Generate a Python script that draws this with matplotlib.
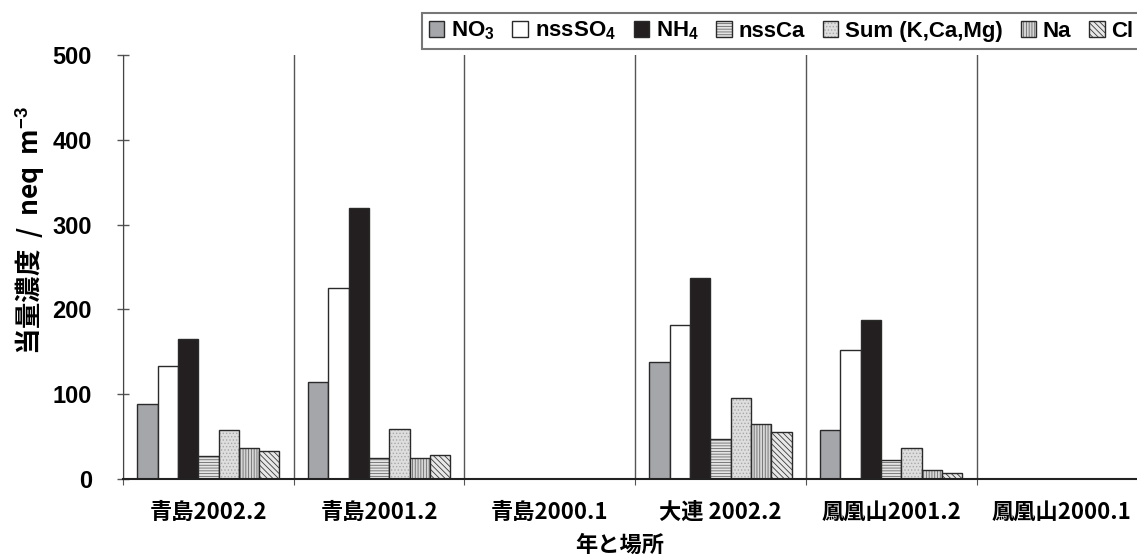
import numpy as np
import matplotlib
matplotlib.use("Agg")
import matplotlib.pyplot as plt

plt.rcParams['font.family'] = ['Liberation Sans', 'Noto Sans CJK JP', 'DejaVu Sans']
plt.rcParams['mathtext.fontset'] = 'custom'
plt.rcParams['mathtext.rm'] = 'Liberation Sans:bold'
plt.rcParams['mathtext.it'] = 'Liberation Sans:bold'
plt.rcParams['mathtext.bf'] = 'Liberation Sans:bold'
plt.rcParams['hatch.linewidth'] = 0.6

# data (neq m-3)
sites = ["青島2002.2", "青島2001.2", "青島2000.1", "大連 2002.2", "鳳凰山2001.2", "鳳凰山2000.1"]
species = ["NO$_3$", "nssSO$_4$", "NH$_4$", "nssCa", "Sum (K,Ca,Mg)", "Na", "Cl"]
no3 = [88, 114, 0, 138, 58, 0]
nsso4 = [133, 225, 0, 182, 152, 0]
nh4 = [165, 319, 0, 237, 188, 0]
nssca = [27, 25, 0, 47, 22, 0]
sum_kcamg = [58, 59, 0, 95, 36, 0]
na = [36, 25, 0, 65, 11, 0]
cl = [33, 28, 0, 55, 7, 0]

series = [no3, nsso4, nh4, nssca, sum_kcamg, na, cl]
faces = ["#a5a6aa", "white", "#231f20", "#e4e4e4", "#dedede", "#d6d6d6", "#e8e8e8"]
hatches = [None, None, None, "------", ".....", "||||||", "\\\\\\\\\\\\"]
hatch_cols = [None, None, None, "#6a6a6a", "#a8a8a8", "#6a6a6a", "#3a3a3a"]

fig = plt.figure(figsize=(11.37, 5.57), dpi=100)
ax = fig.add_axes([123/1137, 1 - 479/557, 1 - 123/1137, (479 - 55)/557])

x = np.arange(len(sites))
w = 0.119
for i, vals in enumerate(series):
    bars = ax.bar(x + (i - 3) * w, vals, w, color=faces[i], edgecolor="#2a2a2a",
                  linewidth=1.0, label=species[i], zorder=3)
    if hatches[i]:
        for b in bars:
            b.set_hatch(hatches[i])
            b._hatch_color = matplotlib.colors.to_rgba(hatch_cols[i])

ax.set_xlim(-0.5, -0.5 + 1014/170.7)
ax.set_ylim(0, 500)
ax.set_yticks(range(0, 501, 100))
ax.tick_params(axis='y', direction='inout', length=9, width=1, color="#555555",
               labelsize=17, pad=18)
for t in ax.get_yticklabels():
    t.set_fontweight('bold')

# group separators (category gridlines)
ax.set_xticks(np.arange(len(sites)) - 0.5)
ax.set_xticklabels([])
ax.tick_params(axis='x', which='major', direction='out', length=4, color="#555555")
ax.set_xticks(x, minor=True)
ax.set_xticklabels(sites, minor=True, fontsize=16, fontweight='bold',
                   family=['Noto Sans CJK JP', 'DejaVu Sans'])
ax.tick_params(axis='x', which='minor', length=0, pad=16)
ax.grid(axis='x', which='major', color="#555555", linewidth=1.0, zorder=0)

for s in ['top', 'right']:
    ax.spines[s].set_visible(False)
ax.spines['left'].set_color("#444444")
ax.spines['bottom'].set_color("#222222")
ax.spines['bottom'].set_linewidth(1.5)
ax.spines['bottom'].set_zorder(4)

fig.text(620/1137, 1 - 545/557, "年と場所", ha='center', va='center', fontsize=16,
         fontweight='bold', family=['Noto Sans CJK JP', 'DejaVu Sans'])
fig.text(30/1137, 1 - 230/557, "当量濃度  /  neq  m$^{-3}$", ha='center', va='center',
         rotation=90, fontsize=19, fontweight='bold',
         family=['Noto Sans CJK JP', 'DejaVu Sans'])

leg = fig.legend(loc='upper left', bbox_to_anchor=(422/1137, 1 - 13/557), ncol=7,
                 handlelength=0.7, handleheight=0.7, handletextpad=0.3,
                 columnspacing=0.8, borderpad=0.3, borderaxespad=0, fancybox=False,
                 prop={'weight': 'bold', 'size': 16, 'family': 'Liberation Sans'})
leg.get_frame().set_edgecolor("#555555")
leg.get_frame().set_linewidth(1.5)

fig.savefig("out.png", dpi=100)
